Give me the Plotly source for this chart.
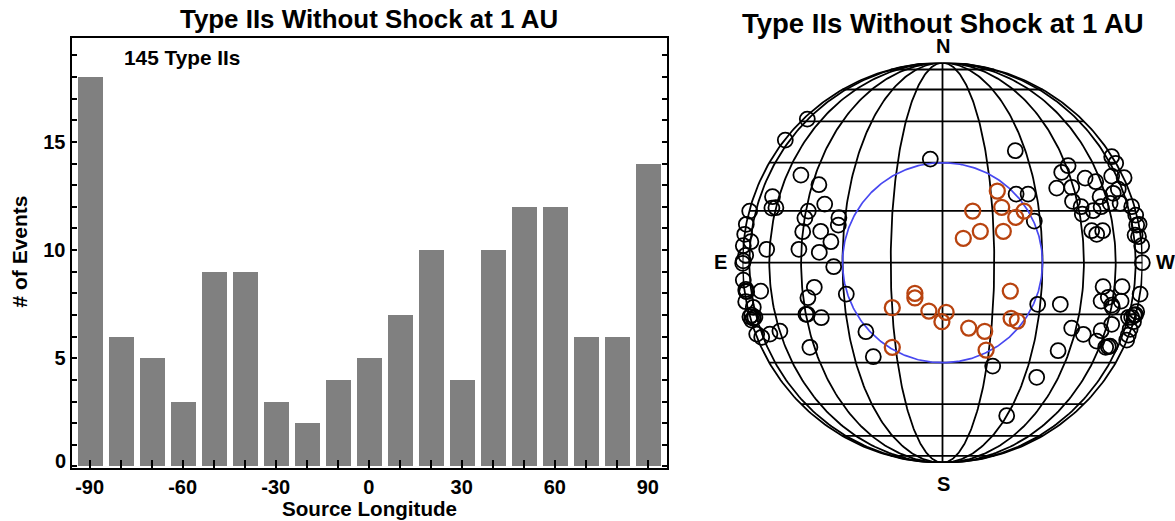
import numpy as np
import plotly.graph_objects as go

TITLE = "Type IIs Without Shock at 1 AU"
longitudes = [-90, -80, -70, -60, -50, -40, -30, -20, -10, 0, 10, 20, 30, 40, 50, 60, 70, 80, 90]
event_counts = [18, 6, 5, 3, 9, 9, 3, 2, 4, 5, 7, 10, 4, 10, 12, 12, 6, 6, 14]
x_ticks = [-90, -60, -30, 0, 30, 60, 90]
y_ticks = [0, 5, 10, 15]

# source positions on the solar disk, in percent of the disk radius
halo_x = [-67.6, -78.6, -6.1, -70.8, -61.8, -85, -58.9, -85.3, -83.3, -96.4, -67.1, -51.8, -68.8, -52.1, -98.1,
          -69.9, -60.9, -98.9, -95.8, -55.8, -99.6, -87.9, -71.8, -61.6, -98.4, -99.6, -99.9, -54.4,
          -99.6, -98.3, -98.3, -97.9, -90.9, -64.1, -67.3, -48.1, -98.4, -94.6, -95.4, -94.6, -93.8, -95.4, -96.3,
          -68.3, -67.6, -60.6, -81.3, -86.3, -90.4, -92.9, -66.3, -38.3, -34.6,
          36.4, 62.8, 59.6, 57.1, 64.6, 71.3, 76.6, 84.6, 86.6, 84.6, 90.8, 87.9, 85.4, 78.8, 36.8, 42.8, 65, 69.3,
          69.9, 75.4, 79.3, 83.8, 88.8, 94.6, 96.6, 45.9, 74.6, 80.1, 77.1, 98.3, 97.1, 96.3, 98, 99.6, 99.9,
          98.8, 47.6, 58.9, 80.3, 89.8, 82.9, 79.3, 89.3, 84.6, 84.9, 97.1, 95.8, 94.6, 93, 96.5, 95.5,
          84.6, 64.6, 70.4, 79.3, 77.1, 93.8, 92.9, 92.1, 81.6, 82.9, 83.8, 57.8, 47.1, 25.1, 32.1]
halo_y = [71.8, 61.3, 51.8, 43.8, 39, 33, 29.3, 27.3, 27.5, 25.8, 25.8, 22.5, 22.3, 18.8, 19.2,
          15.5, 15.7, 14.2, 10.5, 10.5, 8.5, 6.7, 6.7, 5.2, 3.7, 0.9, -0.3, -2,
          -8.7, -13.3, -14.2, -14.5, -14.2, -12.3, -17.5, -15.7, -19.5, -22.3, -26.2, -27.8, -27.3, -28.7, -27,
          -25.8, -25.8, -27.5, -34.2, -35.7, -37.3, -35.7, -42.3, -34.5, -47,
          56, 48.5, 45.2, 37.3, 37.7, 42.3, 40.5, 53, 49.7, 43.3, 42.5, 36.8, 34.7, 33, 34.3, 34.3, 30.7, 28,
          24.3, 26, 28, 29.7, 29.7, 28, 23.8, 20.8, 16, 16, 14.2, 19.2, 18.8, 13.8, 13, 8.5, 0,
          -15.7, -20.8, -20.8, -12, -12, -17.3, -19.2, -19.2, -21.2, -22.3, -24.5, -26.2, -27.3, -27.3, -26, -29.5,
          -30.8, -32.7, -35.8, -34, -39.2, -33.3, -36.2, -38.7, -42.3, -42, -41.7, -44, -57.3, -51.7, -76.5]
inner_x = [-25.1, -13.8, -13.8, -6.8, 1.8, -0.3, -25.1,
           27.4, 29.6, 15.1, 40.8, 36.6, 18.9, 30.4, 10.4,
           33.9, 34.3, 37.4, 13.1, 21.1, 21.8]
inner_y = [-22.5, -15.3, -17.6, -24.2, -24.8, -29.5, -42.3,
           35.8, 27.7, 25.8, 25.8, 22.7, 15.7, 15.7, 12.2,
           -14.2, -27.8, -29.2, -32.7, -34.3, -43.7]

grid_step_deg = 15
FONT = "Liberation Sans"
W, H = 1175, 521


def px_dom_x(a, b):
    return [a / W, b / W]


def px_dom_y(top, bottom):
    return [1 - bottom / H, 1 - top / H]


# graticule of the orthographic projection
t = np.radians(np.linspace(-90, 90, 181))
gx, gy = [], []
for lon in range(-90, 91, grid_step_deg):
    gx += list(100 * np.cos(t) * np.sin(np.radians(lon))) + [None]
    gy += list(100 * np.sin(t)) + [None]
for lat in range(-75, 76, grid_step_deg):
    half = 100 * np.cos(np.radians(lat))
    yy = 100 * np.sin(np.radians(lat))
    gx += [-half, half, None]
    gy += [yy, yy, None]

theta = np.linspace(0, 2 * np.pi, 361)

fig = go.Figure()
fig.add_trace(go.Bar(x=longitudes, y=event_counts, width=8, marker=dict(color="#808080", line=dict(width=0)),
                     xaxis="x", yaxis="y", showlegend=False))
fig.add_trace(go.Scatter(x=gx, y=gy, mode="lines", line=dict(color="black", width=1.8), xaxis="x2", yaxis="y2",
                         showlegend=False, cliponaxis=False))
fig.add_trace(go.Scatter(x=50 * np.cos(theta), y=50 * np.sin(theta), mode="lines",
                         line=dict(color="#4848f0", width=1.7), xaxis="x2", yaxis="y2", showlegend=False))
fig.add_trace(go.Scatter(x=halo_x, y=halo_y, mode="markers", cliponaxis=False, xaxis="x2", yaxis="y2", showlegend=False,
                         marker=dict(symbol="circle-open", size=15, color="black", line=dict(width=1.8, color="black"))))
fig.add_trace(go.Scatter(x=inner_x, y=inner_y, mode="markers", cliponaxis=False, xaxis="x2", yaxis="y2", showlegend=False,
                         marker=dict(symbol="circle-open", size=15, color="#b8430f", line=dict(width=2.3, color="#b8430f"))))


def ann(text, x, y, size, **kw):
    return dict(text=text, x=x / W, y=1 - y / H, xref="paper", yref="paper", showarrow=False,
                xanchor=kw.pop("xanchor", "center"), yanchor="middle",
                font=dict(family=FONT, size=size, color="black", weight=700), **kw)


annotations = [
    ann(TITLE, 369, 19, 25.9),
    ann(TITLE, 942.5, 23.5, 27.5),
    ann("145 Type IIs", 122, 57, 20.8, xanchor="left"),
    ann("0", 60, 461, 20),
    ann("Source Longitude", 369, 508.5, 20.6),
    ann("# of Events", 18.5, 252, 21, textangle=-90),
    ann("N", 943, 46, 20),
    ann("S", 943, 484, 20),
    ann("E", 720.5, 262, 20),
    ann("W", 1165, 262, 20),
]

fig.update_layout(
    width=W, height=H, margin=dict(l=0, r=0, t=0, b=0), paper_bgcolor="white", plot_bgcolor="white",
    showlegend=False, annotations=annotations, bargap=0,
    xaxis=dict(domain=px_dom_x(71.5, 667), range=[-95.85, 96.2], tickmode="array", tickvals=x_ticks,
               ticktext=[str(v) for v in x_ticks], ticks="inside", ticklen=8, tickwidth=1.7, tickcolor="black",
               minor=dict(dtick=10, tick0=0, ticks="inside", ticklen=8, tickwidth=1.7, tickcolor="black"),
               showline=True, linecolor="black", linewidth=2, mirror=True, showgrid=False, zeroline=False,
               tickfont=dict(family=FONT, size=20, color="black", weight=700), anchor="y"),
    yaxis=dict(domain=px_dom_y(38, 467.5), range=[-0.05, 19.8], tickmode="array", tickvals=y_ticks,
               ticktext=["" if v == 0 else str(v) for v in y_ticks], ticks="inside", ticklen=5, tickwidth=1.7,
               tickcolor="black", minor=dict(dtick=1, tick0=0, ticks="inside", ticklen=5, tickwidth=1.7, tickcolor="black"),
               showline=True, linecolor="black", linewidth=2, mirror="ticks", showgrid=False, zeroline=False,
               tickfont=dict(family=FONT, size=20, color="black", weight=700), anchor="x"),
    xaxis2=dict(domain=px_dom_x(742.5, 1142.5), range=[-100, 100], visible=False, anchor="y2"),
    yaxis2=dict(domain=px_dom_y(62.7, 462.7), range=[-100, 100], visible=False, anchor="x2"),
)

fig.write_html("out.html", config=dict(displayModeBar=False), post_script="document.body.style.margin='0';")
